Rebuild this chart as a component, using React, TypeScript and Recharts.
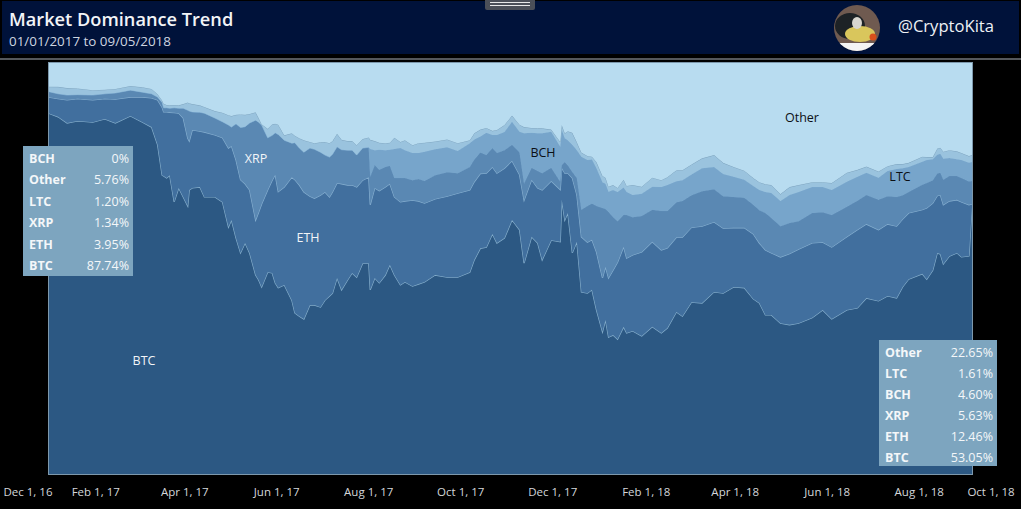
import { AreaChart, Area, XAxis, YAxis, CartesianGrid } from "recharts";

// days since Jan 1, 2017
const days = [
  0, 6, 12, 19, 29, 37, 44, 54, 62, 68,
  72, 75, 76, 78, 80, 83, 86, 89, 92, 93,
  95, 100, 103, 110, 115, 119, 121, 124, 127, 130,
  133, 137, 139, 141, 145, 148, 150, 152, 156, 161,
  163, 166, 169, 173, 176, 180, 183, 186, 188, 191,
  194, 198, 201, 204, 208, 212, 213, 216, 219, 223,
  226, 229, 233, 236, 241, 245, 249, 256, 264, 271,
  279, 282, 286, 290, 294, 297, 302, 307, 312, 315,
  320, 324, 327, 333, 339, 340, 342, 344, 347, 350,
  353, 357, 360, 363, 367, 369, 371, 374, 377, 381,
  383, 387, 393, 400, 406, 410, 416, 420, 426, 433,
  441, 447, 454, 461, 467, 471, 475, 479, 485, 491,
  497, 506, 513, 519, 529, 536, 542, 550, 556, 562,
  566, 570, 579, 582, 586, 589, 591, 593, 597, 602,
  605, 610, 612,
];

const btc = [
  87.74, 86.9, 85.4, 85.9, 85.6, 86.4, 85.4, 87.1, 85.6, 84.4,
  80.1, 72.7, 72.5, 72, 72.7, 66.2, 69.6, 67.4, 65.2, 69.1,
  69.6, 69.8, 67.4, 67.4, 66.2, 60.1, 61.8, 57.4, 53.8, 56.2,
  53.8, 48.4, 47.2, 45.5, 49.1, 48.9, 46.5, 45.3, 46, 42.3,
  39.2, 38.4, 37.7, 41.1, 41.1, 40.6, 42.3, 43.3, 44, 47.7,
  44.8, 47.2, 48.9, 47.9, 51.3, 51.3, 44.8, 47.7, 46.5, 48.4,
  50.9, 48.4, 46, 46.7, 45.7, 46.2, 46.7, 48.4, 47.9, 47.9,
  49.1, 52.1, 54.9, 55.2, 58.4, 56.2, 57.4, 61.8, 59.4, 51.3,
  57.7, 56.2, 52.1, 56.9, 56.5, 66.7, 61.8, 63.5, 53.8, 56.5,
  44.3, 44, 44.8, 39.9, 34.6, 37.5, 33.3, 33.8, 32.8, 35.8,
  34.3, 34.8, 33.6, 35.8, 34.3, 35.5, 39.4, 38.4, 41.8, 41.6,
  44.3, 44, 45.5, 45.3, 42.6, 41.6, 38.7, 38.7, 36.7, 36.3,
  36.7, 38, 39.9, 37.7, 39.9, 40.4, 42.8, 42.1, 43.3, 42.8,
  45.5, 47.4, 48.7, 47.4, 49.6, 53.8, 53.5, 51.1, 53, 53.8,
  52.8, 53.05, 64.9,
];

const eth = [
  3.95, 4.4, 5.6, 5.4, 5.4, 4.9, 5.8, 4.6, 6.1, 7.1,
  10.9, 16.5, 15.6, 16.1, 15.3, 21.7, 18.2, 19.2, 16.5, 11.9,
  14.1, 13.6, 15.8, 15.1, 15.6, 19.2, 18, 19, 17.8, 14.4,
  15.3, 13.4, 16.5, 20.2, 20, 22.6, 26.3, 23.4, 23.8, 29.9,
  32.4, 31.9, 30.9, 26.5, 26, 27.2, 26.3, 24.1, 24.6, 23.1,
  25.8, 23.1, 21.4, 21.9, 20.2, 20.9, 20.7, 21.9, 22.4, 21.4,
  19.7, 19, 20.2, 19.7, 20.9, 20.2, 19.2, 18.5, 19.7, 20.4,
  20, 19, 18.2, 18, 16.3, 17, 17, 14.4, 13.4, 15.3,
  13.9, 13.4, 17, 14.4, 12.7, 7.8, 11.4, 9.7, 18.2, 11.4,
  13.4, 12.4, 12.2, 14.1, 13.1, 12.9, 14.4, 15.8, 18.7, 19.5,
  18.2, 18.5, 20.4, 20.7, 20.2, 19.5, 18.2, 19.2, 18.2, 18.7,
  17, 15.8, 14.4, 14.6, 15.8, 14.6, 15.8, 15.1, 16.1, 17.3,
  18, 18.2, 16.5, 17.5, 17.8, 19, 18, 17.3, 17.5, 17.5,
  16.5, 16.1, 15.6, 17.3, 16.3, 13.9, 14.4, 14.4, 13.4, 12.9,
  13.4, 12.46, 0.8,
];

const xrp = [
  1.34, 1.2, 1.2, 1, 1.2, 1.2, 1.5, 1.7, 1.2, 1,
  0.7, 1.2, 1, 1, 1, 1.2, 1.2, 2.4, 6.8, 7.3,
  4.4, 4.6, 4.6, 4.1, 3.9, 5.6, 4.6, 8.8, 12.7, 13.9,
  16.3, 24.3, 21.9, 19.2, 12.7, 10.9, 10.2, 13.9, 11.4, 8.3,
  9, 9, 9.7, 11.7, 11.9, 10.5, 9, 9.7, 9.2, 8.8,
  8.3, 8.5, 8.5, 7.8, 7.8, 7.1, 6.8, 5.6, 5.1, 4.9,
  4.4, 4.6, 5.8, 5.6, 4.9, 5.4, 5.4, 5.8, 5.8, 4.9,
  5.6, 5.4, 5.1, 4.4, 4.6, 4.9, 4.4, 3.9, 5.4, 4.1,
  2.9, 4.1, 4.1, 3.2, 1.9, 0.7, 2.7, 1.9, 1.5, 4.1,
  6.6, 8.8, 8.8, 11.2, 17, 14.1, 16.1, 12.9, 10, 7.8,
  10.5, 9.2, 8.8, 7.8, 9.5, 9, 8.5, 8.8, 7.8, 8.5,
  8, 7.8, 7.5, 7.3, 7.1, 8, 9, 8.5, 7.5, 7.5,
  6.8, 7.3, 7.3, 7.8, 7.3, 7.1, 7.1, 7.3, 6.8, 7.1,
  5.8, 5.1, 6.1, 6.1, 5.6, 5.4, 5.4, 6.1, 6.1, 5.8,
  5.8, 5.63, 5.6,
];

const bch = [
  0, 0, 0, 0, 0, 0, 0, 0, 0, 0,
  0, 0, 0, 0, 0, 0, 0, 0, 0, 0,
  0, 0, 0, 0, 0, 0, 0, 0, 0, 0,
  0, 0, 0, 0, 0, 0, 0, 0, 0, 0,
  0, 0, 0, 0, 0, 0, 0, 0, 0, 0,
  0, 0, 0, 0, 0, 0.2, 6.8, 3.6, 4.9, 4.1,
  3.9, 7.1, 7.3, 6.8, 6.6, 6.3, 7.1, 6.3, 6.1, 5.4,
  5.8, 4.9, 3.9, 5.4, 3.2, 4.4, 4.4, 5.6, 5.1, 12.2,
  8.5, 9.2, 9.7, 8.8, 8.5, 8.5, 5.8, 6.1, 6.6, 6.8,
  12.9, 11.2, 10.7, 9.2, 6.3, 6.1, 4.9, 6.6, 7.1, 6.6,
  5.6, 5.4, 5.4, 5.6, 5.8, 6.3, 5.1, 5.1, 5.1, 5.6,
  5.4, 5.4, 4.9, 4.4, 4.6, 4.9, 5.1, 6.1, 6.1, 6.8,
  7.1, 6.3, 6.1, 6.1, 6.1, 5.8, 5.4, 5.4, 6.1, 6.8,
  6.6, 6.1, 5.6, 5.6, 5.1, 4.6, 4.6, 5.1, 4.4, 4.1,
  4.4, 4.6, 4.6,
];

const ltc = [
  1.2, 1.7, 1.7, 1.5, 1.2, 1, 1, 1, 1.2, 1.2,
  0.7, 0.5, 1, 0.7, 0.7, 0.7, 0.7, 1, 1.9, 1.9,
  1.9, 1.7, 1.5, 1.7, 2.2, 2.4, 2.7, 2.2, 3.2, 2.9,
  2.2, 1.9, 1, 0.2, 2.2, 2.7, 2.2, 2.4, 1.2, 2.4,
  1.7, 2.4, 2.9, 1.5, 1.5, 2.4, 3.2, 3.4, 3.2, 3.2,
  2.4, 2.2, 2.2, 2.4, 2.2, 2.4, 2.2, 2.2, 1.7, 1.7,
  1.7, 2.7, 1.5, 2.4, 1.9, 2.4, 2.2, 1.9, 1.9, 1.9,
  0.7, 1.5, 1.7, 1.2, 1, 1.2, 1.7, 1.5, 1.7, 1.5,
  1.2, 1.2, 1.2, 0.5, 1.2, 1.2, 1.2, 2.2, 2.9, 1.9,
  1, 1, 0.7, 1.5, 1.5, 1.5, 1.2, 1.2, 1, 1.9,
  1.5, 2.4, 1.7, 2.2, 1.7, 1.9, 2.7, 2.4, 2.4, 2.4,
  2.9, 2.7, 2.4, 2.2, 1.9, 1.9, 1.9, 1.9, 1.7, 1.9,
  1.7, 1.2, 1.2, 1.7, 2.2, 1.7, 1.5, 1.5, 1.2, 1.2,
  1, 1, 1.2, 0.7, 0.5, 1.5, 1.5, 1.7, 1.9, 1.9,
  1.7, 1.61, 1.7,
];

const other = [
  5.76, 5.9, 6.2, 6.4, 6.7, 6.7, 6.4, 5.7, 5.9, 6.4,
  7.6, 9.1, 10, 10.3, 10.3, 10.3, 10.3, 10, 9.6, 9.8,
  10, 10.3, 10.8, 11.8, 12.2, 12.8, 13, 12.8, 12.8, 12.8,
  12.5, 12, 13.5, 15, 16.2, 15, 15, 15.2, 17.6, 17.1,
  17.8, 18.3, 18.8, 19.3, 19.5, 19.3, 19.3, 19.5, 19.1, 17.4,
  18.8, 19.1, 19.1, 20, 18.6, 18.1, 18.8, 19.1, 19.5, 19.5,
  19.5, 18.3, 19.3, 18.8, 20, 19.5, 19.5, 19.1, 18.6, 19.5,
  18.8, 17.4, 16.2, 16, 16.7, 16.4, 15.2, 13, 15.2, 15.6,
  16, 16, 16, 16.4, 19.3, 15.2, 17.1, 16.7, 17.1, 19.3,
  22, 22.7, 23, 24.2, 27.6, 28.1, 30.3, 29.8, 30.5, 28.7,
  30, 29.8, 30.3, 28.1, 28.7, 27.8, 26.1, 26.1, 24.6, 23.2,
  22.5, 24.4, 25.4, 26.3, 28.1, 29, 29.5, 29.8, 32, 30.3,
  29.8, 29, 29, 29.3, 26.8, 26.1, 25.4, 26.6, 25.1, 24.6,
  24.6, 24.4, 23, 23, 23, 21, 20.7, 21.7, 21.2, 21.4,
  22, 22.65, 22.5,
];

const chartData = days.map((day, i) => ({
  day,
  BTC: btc[i],
  ETH: eth[i],
  XRP: xrp[i],
  BCH: bch[i],
  LTC: ltc[i],
  Other: other[i],
}));

const tickDays = [-31, 31, 90, 151, 212, 273, 334, 396, 455, 516, 577, 638];
const tickLabels = [
  "Dec 1, 16", "Feb 1, 17", "Apr 1, 17", "Jun 1, 17", "Aug 1, 17", "Oct 1, 17",
  "Dec 1, 17", "Feb 1, 18", "Apr 1, 18", "Jun 1, 18", "Aug 1, 18", "Oct 1, 18",
];

const startRows = [["BCH", "0%"], ["Other", "5.76%"], ["LTC", "1.20%"], ["XRP", "1.34%"], ["ETH", "3.95%"], ["BTC", "87.74%"]];
const endRows = [["Other", "22.65%"], ["LTC", "1.61%"], ["BCH", "4.60%"], ["XRP", "5.63%"], ["ETH", "12.46%"], ["BTC", "53.05%"]];

const FONT = '"Open Sans", "Noto Sans", sans-serif';

function DateTick({ x, y, payload }: any) {
  const i = tickDays.indexOf(payload.value);
  const cx = Math.min(991, Math.max(28, x));
  return (
    <text x={cx} y={y + 14} textAnchor="middle" fontSize={11.5} fill="#d4d7db" fontFamily={FONT}>
      {tickLabels[i]}
    </text>
  );
}

function ValueBox({ rows, left, top, width, height, rowHeight }: { rows: string[][]; left: number; top: number; width: number; height: number; rowHeight: number }) {
  return (
    <div style={{ position: "absolute", left, top, width, height, background: "#7da5bf", padding: "2px 4px 0 6px", boxSizing: "border-box", color: "#f4f7f9", fontSize: 12.5, fontFamily: FONT }}>
      {rows.map(([name, value]) => (
        <div key={name} style={{ display: "flex", justifyContent: "space-between", height: rowHeight, lineHeight: rowHeight + "px" }}>
          <b>{name}</b>
          <span>{value}</span>
        </div>
      ))}
    </div>
  );
}

function SeriesLabel({ text, left, top, color }: { text: string; left: number; top: number; color: string }) {
  return (
    <div style={{ position: "absolute", left, top, transform: "translate(-50%, -50%)", fontSize: 12.5, color, fontFamily: FONT }}>{text}</div>
  );
}

export default function App() {
  return (
    <div style={{ position: "absolute", left: 0, top: 0, width: 1021, height: 509, background: "#000", overflow: "hidden" }}>
      {/* header */}
      <div style={{ position: "absolute", left: 2, top: 1, width: 1017, height: 53, background: "#00123a" }} />
      <div style={{ position: "absolute", left: 0, top: 58, width: 1021, height: 2, background: "#55585c" }} />
      <div style={{ position: "absolute", left: 485, top: 0, width: 50, height: 10, background: "#4b4f58", borderRadius: "0 0 2px 2px" }}>
        <div style={{ margin: "2px 5px 0", height: 1, background: "#e8e8e8" }} />
        <div style={{ margin: "2px 5px 0", height: 1, background: "#e8e8e8" }} />
      </div>
      <div style={{ position: "absolute", left: 9, top: 7, fontSize: 18.2, fontWeight: 600, color: "#f2f4f7", fontFamily: FONT, whiteSpace: "nowrap" }}>Market Dominance Trend</div>
      <div style={{ position: "absolute", left: 9, top: 32, fontSize: 13.4, color: "#cfd6e0", fontFamily: FONT, whiteSpace: "nowrap" }}>01/01/2017 to 09/05/2018</div>
      <svg style={{ position: "absolute", left: 833, top: 4 }} width={48} height={48}>
        <clipPath id="avatar"><circle cx={24} cy={24} r={23} /></clipPath>
        <g clipPath="url(#avatar)">
          <rect width={48} height={48} fill="#6f5a50" />
          <ellipse cx={17} cy={22} rx={15} ry={13} fill="#1d2226" />
          <ellipse cx={27} cy={30} rx={15} ry={8} fill="#d9c65c" />
          <ellipse cx={24} cy={19} rx={5} ry={6} fill="#d8d6d0" />
          <circle cx={40} cy={33} r={3.5} fill="#d8501c" />
          <rect y={39} width={48} height={9} fill="#f4f4f4" />
        </g>
      </svg>
      <div style={{ position: "absolute", left: 898, top: 14, fontSize: 16.6, color: "#eef1f5", fontFamily: FONT, whiteSpace: "nowrap" }}>@CryptoKita</div>

      <div style={{ position: "absolute", left: 0, top: 0 }}>
        <AreaChart width={1021} height={509} data={chartData} margin={{ top: 63, right: 49, bottom: 0, left: 49 }}>
          <CartesianGrid horizontal={false} vertical={false} fill="#b8dcf0" />
          <XAxis
            dataKey="day"
            type="number"
            domain={[0, 612]}
            allowDataOverflow
            ticks={tickDays}
            interval={0}
            height={35}
            tickLine={false}
            axisLine={false}
            tick={DateTick}
          />
          <YAxis hide domain={[0, 100]} allowDataOverflow />
          <Area type="linear" dataKey="BTC" stackId="1" fill="#2c5883" fillOpacity={1} stroke="#86afcc" strokeWidth={1.2} dot={false} isAnimationActive={false} />
          <Area type="linear" dataKey="ETH" stackId="1" fill="#416f9e" fillOpacity={1} stroke="#86afd0" strokeWidth={1.2} dot={false} isAnimationActive={false} />
          <Area type="linear" dataKey="XRP" stackId="1" fill="#5a88b3" fillOpacity={1} stroke="#5f8db8" strokeWidth={1} dot={false} isAnimationActive={false} />
          <Area type="linear" dataKey="BCH" stackId="1" fill="#77a5cb" fillOpacity={1} stroke="#7aa8ce" strokeWidth={1} dot={false} isAnimationActive={false} />
          <Area type="linear" dataKey="LTC" stackId="1" fill="#9ac3de" fillOpacity={1} stroke="#7fa5c0" strokeWidth={1} dot={false} isAnimationActive={false} />
          <Area type="linear" dataKey="Other" stackId="1" fill="#b8dcf0" fillOpacity={1} stroke="none" dot={false} isAnimationActive={false} />
        </AreaChart>
      </div>
      <div style={{ position: "absolute", left: 48, top: 62, width: 923, height: 411, border: "1px solid #7d98ac", pointerEvents: "none" }} />

      <SeriesLabel text="BTC" left={144} top={360} color="#f2f5f8" />
      <SeriesLabel text="ETH" left={308} top={237} color="#f2f5f8" />
      <SeriesLabel text="XRP" left={256} top={158} color="#f2f5f8" />
      <SeriesLabel text="BCH" left={543} top={152} color="#0b0f14" />
      <SeriesLabel text="Other" left={802} top={117} color="#0b0f14" />
      <SeriesLabel text="LTC" left={900} top={176} color="#0b0f14" />

      <ValueBox rows={startRows} left={23} top={146} width={110} height={130} rowHeight={21.4} />
      <ValueBox rows={endRows} left={879} top={340} width={118} height={126} rowHeight={21} />
    </div>
  );
}
